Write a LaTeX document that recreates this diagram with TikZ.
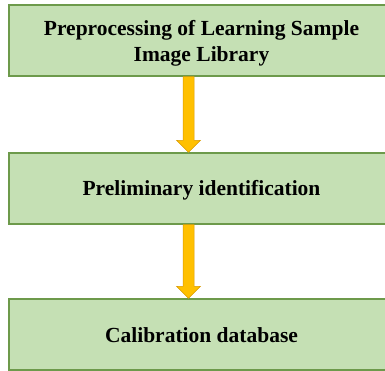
\documentclass[tikz,border=0pt]{standalone}
\usepackage{fontspec}
\setmainfont{Liberation Serif}
\usetikzlibrary{calc}
\definecolor{boxfill}{HTML}{C5E0B4}
\definecolor{boxline}{HTML}{6D9A4B}
\definecolor{arrfill}{HTML}{FFC000}
\definecolor{arrline}{HTML}{D99A00}
\tikzset{
    step box/.style={rectangle, fill=boxfill, draw=boxline, line width=1.4pt,
    	minimum width=385pt, minimum height=71pt, align=center,
    	text height=15pt, text depth=0pt,
    	font=\bfseries\fontsize{21.5pt}{26pt}\selectfont},
    flow arrow/.style={fill=arrfill, draw=arrline, line width=0.5pt}
}

\begin{document}
\begin{tikzpicture}
  \useasboundingbox (0pt, 0pt) rectangle (385pt, -371pt);
  \clip (0pt, 0pt) rectangle (385pt, -371pt);
  \node (b1) [step box, text height=0pt, text depth=9pt] at (201.5pt, -40.5pt)
    {\begin{tabular}[t]{@{}c@{}}Preprocessing of Learning Sample\\Image Library\end{tabular}};
  \node (b2) [step box] at (201.5pt, -188.5pt) {Preliminary identification};
  \node (b3) [step box] at (201.5pt, -334.5pt) {Calibration database};
  \coordinate (ax) at (188.5pt, 0pt);

  \foreach \a/\b in {b1/b2, b2/b3}
    \draw[flow arrow] ($(\a.south -| ax)+(-5.5pt,0)$) -- ($(\b.north -| ax)+(-5.5pt,12pt)$)
      -- ++(-6.5pt,0) -- (\b.north -| ax) -- ++(12pt,12pt) -- ++(-6.5pt,0)
      -- ($(\a.south -| ax)+(5.5pt,0)$) -- cycle;

\end{tikzpicture}
\end{document}
